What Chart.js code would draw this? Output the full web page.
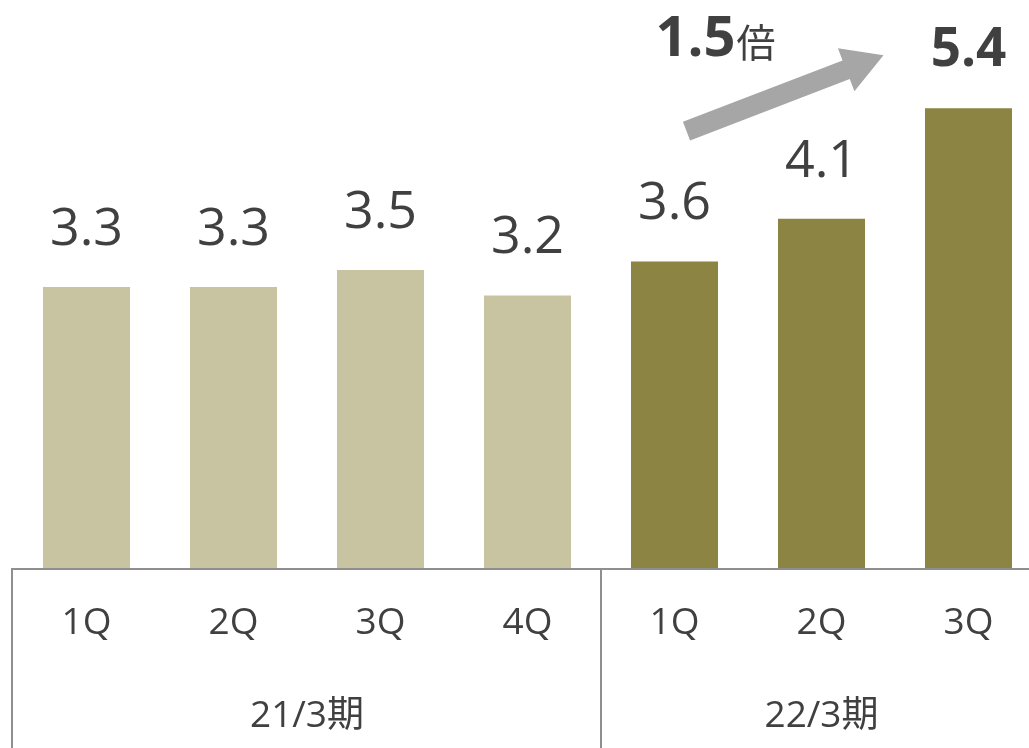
<!DOCTYPE html>
<html>
<head>
<meta charset="utf-8">
<script src="https://cdn.jsdelivr.net/npm/chart.js@4"></script>
<style>
  html, body { margin: 0; padding: 0; background: #fff; overflow: hidden; }
  #wrap { position: relative; width: 1042px; height: 748px; }
</style>
</head>
<body>
<div id="wrap"><canvas id="revenue-chart"></canvas></div>
<script>
// data
var quarters = ["1Q", "2Q", "3Q", "4Q", "1Q", "2Q", "3Q"];
var values = [3.3, 3.3, 3.5, 3.2, 3.6, 4.1, 5.4];
var valueLabels = ["3.3", "3.3", "3.5", "3.2", "3.6", "4.1", "5.4"];
var groups = ["21/3期", "22/3期"];
var groupSizes = [4, 3];
var growthText = "1.5";
var growthUnit = "倍";

var lightColor = "#C8C3A1";
var darkColor = "#8C8443";
var textColor = "#404040";
var lineColor = "#8F8F8F";
var fontFamily = "'Open Sans', 'Noto Sans CJK JP', sans-serif";

var barColors = [];
for (var i = 0; i < values.length; i++) {
  barColors[i] = i < groupSizes[0] ? lightColor : darkColor;
}

// draws value labels, axis frame, group labels and arrow
var decorPlugin = {
  id: "decor",
  afterDatasetsDraw: function (chart) {
    var ctx = chart.ctx;
    var xs = chart.scales.x;
    var ys = chart.scales.y;
    var area = chart.chartArea;
    var meta = chart.getDatasetMeta(0);

    ctx.save();
    // value labels above bars
    ctx.fillStyle = textColor;
    ctx.textAlign = "center";
    ctx.textBaseline = "alphabetic";
    for (var i = 0; i < meta.data.length; i++) {
      var bar = meta.data[i];
      var last = i == meta.data.length - 1;
      ctx.font = (last ? "bold 53px " : "52px ") + fontFamily;
      ctx.fillText(valueLabels[i], bar.x, bar.y - 42);
    }

    // axis frame
    ctx.strokeStyle = lineColor;
    ctx.lineWidth = 2;
    ctx.beginPath();
    ctx.moveTo(area.left - 1, area.bottom + 1);
    ctx.lineTo(chart.width, area.bottom + 1);
    ctx.moveTo(area.left - 1, area.bottom);
    ctx.lineTo(area.left - 1, chart.height);
    var idx = 0;
    var starts = [];
    for (var g = 0; g < groups.length; g++) {
      starts.push(idx);
      idx += groupSizes[g];
      if (g < groups.length - 1) {
        var sx = (xs.getPixelForValue(idx - 1) + xs.getPixelForValue(idx)) / 2;
        ctx.moveTo(sx, area.bottom);
        ctx.lineTo(sx, chart.height);
      }
    }
    ctx.stroke();

    // group labels
    ctx.font = "37px " + fontFamily;
    ctx.fillStyle = textColor;
    ctx.textBaseline = "alphabetic";
    for (var g = 0; g < groups.length; g++) {
      var a = xs.getPixelForValue(starts[g]);
      var b = xs.getPixelForValue(starts[g] + groupSizes[g] - 1);
      ctx.fillText(groups[g], (a + b) / 2, area.bottom + 159);
    }

    // growth arrow from 22/3 1Q towards 3Q
    var x0 = xs.getPixelForValue(4) + 12;
    var y0 = ys.getPixelForValue(5.13);
    var x1 = xs.getPixelForValue(6) - 85;
    var y1 = ys.getPixelForValue(6.02);
    var ang = Math.atan2(y1 - y0, x1 - x0);
    var len = Math.hypot(x1 - x0, y1 - y0);
    ctx.translate(x0, y0);
    ctx.rotate(ang);
    ctx.fillStyle = "#A6A6A6";
    ctx.beginPath();
    ctx.moveTo(0, -10);
    ctx.lineTo(len - 40, -10);
    ctx.lineTo(len - 40, -23);
    ctx.lineTo(len, 0);
    ctx.lineTo(len - 40, 23);
    ctx.lineTo(len - 40, 10);
    ctx.lineTo(0, 10);
    ctx.closePath();
    ctx.fill();
    ctx.setTransform(1, 0, 0, 1, 0, 0);

    // growth text
    ctx.fillStyle = textColor;
    ctx.textAlign = "left";
    ctx.font = "bold 56px " + fontFamily;
    var tx = xs.getPixelForValue(4) - 19;
    var ty = 56;
    ctx.fillText(growthText, tx, ty);
    var w = ctx.measureText(growthText).width;
    ctx.font = "39px " + fontFamily;
    ctx.fillText(growthUnit, tx + w + 1, ty + 1);
    ctx.restore();
  }
};

var ctx = document.getElementById("revenue-chart").getContext("2d");
var myChart = new Chart(ctx, {
  type: "bar",
  data: {
    labels: quarters,
    datasets: [
      {
        data: values,
        backgroundColor: barColors,
        borderWidth: 0,
        categoryPercentage: 1.0,
        barPercentage: 0.592
      }
    ]
  },
  options: {
    responsive: true,
    maintainAspectRatio: false,
    animation: false,
    layout: { padding: { left: 13, right: 0, top: 0, bottom: 0 } },
    plugins: {
      legend: { display: false },
      tooltip: { enabled: false },
      title: { display: false }
    },
    scales: {
      x: {
        grid: { display: false, drawTicks: false },
        border: { display: false },
        ticks: {
          color: textColor,
          font: { family: fontFamily, size: 37 },
          padding: 33,
          maxRotation: 0,
          autoSkip: false
        },
        afterFit: function (scale) {
          scale.height = 180;
        }
      },
      y: {
        display: false,
        min: 0,
        max: 6.67
      }
    }
  },
  plugins: [decorPlugin]
});
</script>
</body>
</html>
